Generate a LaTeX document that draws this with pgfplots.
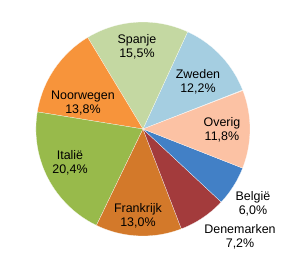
\documentclass[border=0pt]{standalone}
\usepackage{pgfplots}
\pgfplotsset{compat=1.18}
\usepackage{pgfplotstable}
\usepackage{fontspec}
\setmainfont{Liberation Sans}
\definecolor{c0}{HTML}{A5CEE1}
\definecolor{c1}{HTML}{C4D8A2}
\definecolor{c2}{HTML}{F7943B}
\definecolor{c3}{HTML}{98BA4B}
\definecolor{c4}{HTML}{D3792A}
\definecolor{c5}{HTML}{A33B3C}
\definecolor{c6}{HTML}{4280C6}
\definecolor{c7}{HTML}{FCC2A4}
\pgfplotstableread[col sep=comma]{
name,value
Zweden,12.2
Spanje,15.5
Noorwegen,13.8
Italie,20.4
Frankrijk,13.0
Denemarken,7.2
Belgie,6.0
Overig,11.8
}\piedata
\tikzset{lbl/.style={font=\fontsize{12.5}{14.3}\selectfont, align=center, text=black, inner sep=0pt}}
\begin{document}
\begin{tikzpicture}
\begin{axis}[
  scale only axis, width=287bp, height=261bp,
  xmin=-1.336, xmax=1.346, ymin=-1.234, ymax=1.206,
  hide axis, clip=false,
]
\path (rel axis cs:0,0) rectangle (rel axis cs:1,1);
\def\cum{21.4}
\pgfplotsforeachungrouped \i in {0,...,7}{%
  \pgfplotstablegetelem{\i}{value}\of\piedata
  \pgfmathsetmacro\angA{\cum}%
  \pgfmathsetmacro\angB{\cum+3.6*\pgfplotsretval}%
  \edef\cmd{\noexpand\addplot[fill=c\i, draw=white, line width=0.2pt, domain=\angA:\angB, samples=60, variable=\noexpand\t] ({cos(\noexpand\t)},{sin(\noexpand\t)}) -- (axis cs:0,0) -- cycle;}%
  \cmd
  \global\let\cum\angB
}
\node[lbl] at (axis cs:-0.056,0.766) {Spanje\\15,5\%};
\node[lbl] at (axis cs:0.514,0.439) {Zweden\\12,2\%};
\node[lbl] at (axis cs:0.738,-0.01) {Overig\\11,8\%};
\node[lbl] at (axis cs:1.028,-0.70) {België\\6,0\%};
\node[lbl] at (axis cs:0.907,-1.01) {Denemarken\\7,2\%};
\node[lbl] at (axis cs:-0.047,-0.813) {Frankrijk\\13,0\%};
\node[lbl] at (axis cs:-0.682,-0.318) {Italië\\20,4\%};
\node[lbl] at (axis cs:-0.561,0.243) {Noorwegen\\13,8\%};
\end{axis}
\end{tikzpicture}
\end{document}
